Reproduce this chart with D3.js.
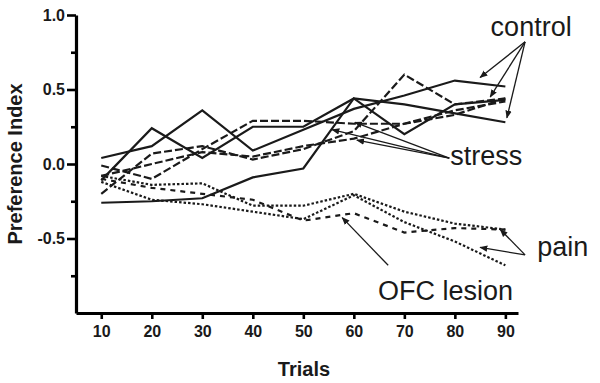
<!DOCTYPE html>
<html>
<head>
<meta charset="utf-8">
<script src="https://cdn.jsdelivr.net/npm/d3@7"></script>
<style>
  body { margin: 0; background: #fff; }
  svg { display: block; font-family: "Liberation Sans", Arial, sans-serif; }
</style>
</head>
<body>
<script>
// trials on the x axis
const trials = [10, 20, 30, 40, 50, 60, 70, 80, 90];

// control (solid)
const control1 = [0.04, 0.12, 0.36, 0.09, 0.23, 0.37, 0.46, 0.56, 0.52];
const control2 = [-0.11, 0.24, 0.04, 0.25, 0.25, 0.44, 0.40, 0.34, 0.28];
const control3 = [-0.26, -0.25, -0.23, -0.09, -0.03, 0.44, 0.20, 0.40, 0.43];

// stress (dashed)
const stress1 = [-0.01, -0.10, 0.10, 0.29, 0.29, 0.27, 0.27, 0.33, 0.44];
const stress2 = [-0.20, 0.07, 0.12, 0.03, 0.10, 0.22, 0.60, 0.40, 0.44];
const stress3 = [-0.08, 0.00, 0.08, 0.05, 0.12, 0.17, 0.27, 0.36, 0.42];

// pain (dotted)
const pain1 = [-0.08, -0.14, -0.13, -0.28, -0.28, -0.20, -0.32, -0.40, -0.44];
const pain2 = [-0.12, -0.24, -0.27, -0.32, -0.37, -0.21, -0.39, -0.52, -0.68];

// OFC lesion (short dash)
const ofc = [-0.10, -0.16, -0.20, -0.24, -0.38, -0.33, -0.46, -0.43, -0.44];

const yTicks = [-0.5, 0.0, 0.5, 1.0];
const yMinorTicks = [-0.75, -0.25, 0.25, 0.75];

// annotation labels: text, anchor point and arrow tips, in data units
const labels = [
  { text: "control", at: [95.1, 0.86], from: [93.9, 0.82], anchor: "middle",
    tips: [[85.0, 0.58], [87.0, 0.45], [90.3, 0.31]] },
  { text: "stress", at: [79.1, -0.01], from: [78.9, 0.04], anchor: "start",
    tips: [[60.2, 0.28], [60.6, 0.16], [55.7, 0.23]] },
  { text: "pain", at: [96.3, -0.62], from: [93.9, -0.61], anchor: "start",
    tips: [[89.0, -0.44], [85.0, -0.56]] },
  { text: "OFC lesion", at: [64.8, -0.91], from: [66.8, -0.68], anchor: "start",
    tips: [[57.7, -0.36]] }
];

const width = 600;
const height = 383;

const series = [
  { values: control1, dash: null },
  { values: control2, dash: null },
  { values: control3, dash: null },
  { values: stress1, dash: "8,3" },
  { values: stress2, dash: "8,3" },
  { values: stress3, dash: "8,3" },
  { values: pain1, dash: "2.5,2" },
  { values: pain2, dash: "2.5,2" },
  { values: ofc, dash: "5,5" }
];

let svg = d3.select("body").append("svg")
  .attr("width", width)
  .attr("height", height);

let xScale = d3.scaleLinear().domain([5, 92.5]).range([76, 518]);
let yScale = d3.scaleLinear().domain([-1, 1]).range([313, 15]);

// x axis
svg.append("g")
  .attr("transform", "translate(0," + yScale(-1) + ")")
  .call(d3.axisBottom(xScale).tickValues(trials).tickSize(6).tickSizeOuter(0).tickPadding(7));

// y axis
svg.append("g")
  .attr("transform", "translate(" + xScale(5) + ",0)")
  .call(d3.axisLeft(yScale).tickValues(yTicks).tickSize(9).tickSizeOuter(0).tickPadding(2)
    .tickFormat(d => d.toFixed(1)));

svg.append("g")
  .attr("transform", "translate(" + xScale(5) + ",0)")
  .call(d3.axisLeft(yScale).tickValues(yMinorTicks).tickSize(5).tickFormat(""))
  .select(".domain").remove();

svg.selectAll(".domain").attr("stroke", "#000").attr("stroke-width", 3.2);
svg.selectAll(".tick line").attr("stroke", "#000").attr("stroke-width", 2.6);
svg.selectAll(".tick text")
  .attr("fill", "#1a1a1a")
  .style("font-size", "16px")
  .style("font-weight", "bold");

// axis titles
svg.append("text")
  .attr("x", (xScale(5) + xScale(92.5)) / 2 + 7)
  .attr("y", 376)
  .attr("text-anchor", "middle")
  .style("font-size", "20px")
  .style("font-weight", "bold")
  .attr("fill", "#1a1a1a")
  .text("Trials");

svg.append("text")
  .attr("transform", "translate(22," + yScale(0) + ") rotate(-90)")
  .attr("text-anchor", "middle")
  .style("font-size", "20px")
  .style("font-weight", "bold")
  .attr("fill", "#1a1a1a")
  .text("Preference Index");

// lines
let line = d3.line()
  .x((d, i) => xScale(trials[i]))
  .y(d => yScale(d));

svg.append("g").selectAll("path")
  .data(series)
  .enter()
  .append("path")
  .attr("d", d => line(d.values))
  .attr("fill", "none")
  .attr("stroke", "#1a1a1a")
  .attr("stroke-width", 2.2)
  .attr("stroke-dasharray", d => d.dash);

// arrow head marker
svg.append("defs").append("marker")
  .attr("id", "head")
  .attr("viewBox", "0 0 10 10")
  .attr("refX", 9)
  .attr("refY", 5)
  .attr("markerWidth", 8)
  .attr("markerHeight", 8)
  .attr("markerUnits", "userSpaceOnUse")
  .attr("orient", "auto")
  .append("path")
  .attr("d", "M0,1 L10,5 L0,9 Z")
  .attr("fill", "#1a1a1a");

let notes = svg.append("g").selectAll("g")
  .data(labels)
  .enter()
  .append("g");

notes.selectAll("line")
  .data(d => d.tips.map(t => ({ from: d.from, to: t })))
  .enter()
  .append("line")
  .attr("x1", d => xScale(d.from[0]))
  .attr("y1", d => yScale(d.from[1]))
  .attr("x2", d => xScale(d.to[0]))
  .attr("y2", d => yScale(d.to[1]))
  .attr("stroke", "#1a1a1a")
  .attr("stroke-width", 1.3)
  .attr("marker-end", "url(#head)");

notes.append("text")
  .attr("x", d => xScale(d.at[0]))
  .attr("y", d => yScale(d.at[1]))
  .attr("text-anchor", d => d.anchor)
  .style("font-size", "27px")
  .attr("fill", "#1a1a1a")
  .text(d => d.text);
</script>
</body>
</html>
